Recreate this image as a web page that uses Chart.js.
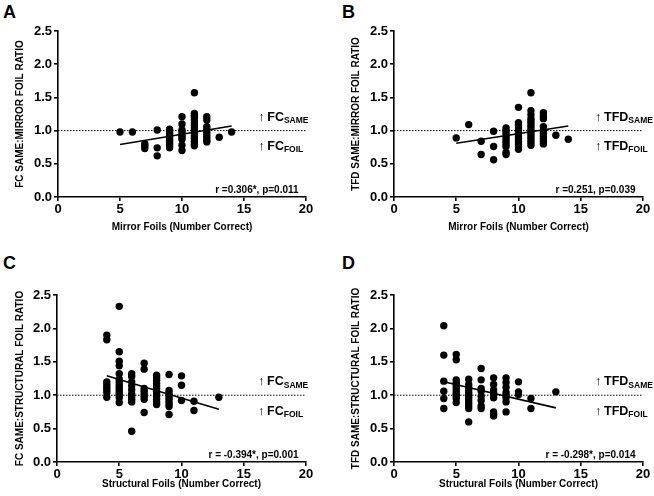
<!DOCTYPE html>
<html>
<head>
<meta charset="utf-8">
<script src="https://cdn.jsdelivr.net/npm/chart.js@4.4.1/dist/chart.umd.min.js"></script>
<style>
body { margin: 0; background: #fff; width: 654px; height: 496px; position: relative; overflow: hidden; font-family: "Liberation Sans", Arial, sans-serif; }
.panel { position: absolute; }
.letter { position: absolute; font-weight: bold; font-size: 18px; line-height: 18px; color: #000; }
</style>
</head>
<body>
<div class="letter" style="left:3px;top:3px">A</div>
<div class="letter" style="left:342px;top:3px">B</div>
<div class="letter" style="left:3px;top:254px">C</div>
<div class="letter" style="left:342px;top:254px">D</div>
<div class="panel" style="left:0;top:0;width:327px;height:246px"><canvas id="chartA"></canvas></div>
<div class="panel" style="left:336px;top:0;width:318px;height:246px"><canvas id="chartB"></canvas></div>
<div class="panel" style="left:0;top:246px;width:327px;height:250px"><canvas id="chartC"></canvas></div>
<div class="panel" style="left:336px;top:246px;width:318px;height:250px"><canvas id="chartD"></canvas></div>
<script>
const xTicks = [0, 5, 10, 15, 20];
const yTicks = [0, 0.5, 1.0, 1.5, 2.0, 2.5];

// A: FC same:mirror foil ratio vs mirror foils
const fcMirrorX = [5, 6, 7, 7, 7, 8, 8, 8,
    9, 9, 9, 9, 9, 9, 9, 9, 9, 9,
    10, 10, 10, 10, 10, 10, 10, 10, 10,
    11, 11, 11, 11, 11, 11, 11, 11, 11, 11, 11, 11, 11, 11, 11,
    12, 12, 12, 12, 12, 12, 12, 12, 12,
    13, 14];
const fcMirrorY = [0.98, 0.98, 0.80, 0.77, 0.73, 1.01, 0.74, 0.62,
    1.02, 0.98, 0.95, 0.92, 0.89, 0.86, 0.83, 0.80, 0.77, 0.74,
    1.21, 1.10, 1.01, 0.97, 0.93, 0.90, 0.87, 0.78, 0.70,
    1.57, 1.26, 1.23, 1.20, 1.16, 1.12, 1.08, 1.04, 1.00, 0.96, 0.92, 0.88, 0.84, 0.80, 0.77,
    1.21, 1.16, 1.06, 1.02, 0.98, 0.94, 0.90, 0.86, 0.83,
    0.90, 0.98];
const fcMirrorFitX = [5, 14];
const fcMirrorFitY = [0.79, 1.07];

// B: TFD same:mirror foil ratio vs mirror foils
const tfdMirrorX = [5, 6, 7, 7, 8, 8, 8,
    9, 9, 9, 9, 9, 9, 9, 9, 9, 9,
    10, 10, 10, 10, 10, 10, 10, 10, 10, 10, 10, 10,
    11, 11, 11, 11, 11, 11, 11, 11, 11, 11, 11, 11, 11, 11,
    12, 12, 12, 12, 12, 12, 12, 12, 12, 12,
    13, 14];
const tfdMirrorY = [0.89, 1.09, 0.84, 0.64, 0.99, 0.76, 0.56,
    1.04, 1.00, 0.96, 0.92, 0.88, 0.84, 0.80, 0.76, 0.67, 0.64,
    1.35, 1.12, 1.08, 1.04, 1.00, 0.96, 0.92, 0.88, 0.84, 0.80, 0.76, 0.72,
    1.57, 1.30, 1.24, 1.18, 1.14, 1.10, 1.06, 1.02, 0.98, 0.94, 0.90, 0.86, 0.82, 0.78,
    1.27, 1.22, 1.18, 1.06, 1.00, 0.96, 0.92, 0.88, 0.84, 0.80,
    0.93, 0.87];
const tfdMirrorFitX = [5, 14];
const tfdMirrorFitY = [0.81, 1.07];

// C: FC same:structural foil ratio vs structural foils
const fcStructX = [4, 4, 4, 4, 4, 4, 4, 4,
    5, 5, 5, 5, 5, 5, 5, 5, 5, 5, 5, 5, 5, 5,
    6, 6, 6, 6, 6, 6, 6, 6, 6, 6,
    7, 7, 7, 7, 7, 7, 7, 7,
    8, 8, 8, 8, 8, 8, 8, 8, 8, 8, 8, 8,
    9, 9, 9, 9, 9, 9, 9, 9, 9,
    10, 10, 10, 11, 11, 13];
const fcStructY = [1.90, 1.83, 1.20, 1.16, 1.12, 1.08, 1.04, 0.97,
    2.33, 1.65, 1.51, 1.44, 1.32, 1.24, 1.20, 1.16, 1.12, 1.08, 1.04, 1.00, 0.96, 0.89,
    1.32, 1.28, 1.20, 1.14, 1.08, 1.02, 0.98, 0.94, 0.90, 0.46,
    1.48, 1.39, 1.10, 1.06, 1.02, 0.98, 0.94, 0.74,
    1.30, 1.26, 1.22, 1.18, 1.14, 1.10, 1.06, 1.02, 0.98, 0.94, 0.90, 0.86,
    1.31, 1.07, 1.03, 0.99, 0.95, 0.91, 0.87, 0.83, 0.71,
    1.29, 1.15, 0.92, 0.91, 0.77, 0.97];
const fcStructFitX = [4, 13];
const fcStructFitY = [1.29, 0.79];

// D: TFD same:structural foil ratio vs structural foils
const tfdStructX = [4, 4, 4, 4, 4, 4,
    5, 5, 5, 5, 5, 5, 5, 5, 5, 5, 5,
    6, 6, 6, 6, 6, 6, 6, 6, 6, 6, 6, 6,
    7, 7, 7, 7, 7, 7, 7, 7,
    8, 8, 8, 8, 8, 8, 8, 8, 8,
    9, 9, 9, 9, 9, 9, 9, 9,
    10, 10, 10, 11, 11, 13];
const tfdStructY = [2.04, 1.60, 1.21, 1.06, 0.95, 0.80,
    1.61, 1.53, 1.23, 1.19, 1.15, 1.11, 1.07, 1.03, 0.99, 0.95, 0.89,
    1.24, 1.16, 1.12, 1.08, 1.04, 1.00, 0.96, 0.92, 0.88, 0.84, 0.80, 0.60,
    1.40, 1.23, 1.10, 1.06, 0.98, 0.92, 0.84, 0.80,
    1.26, 1.16, 1.08, 1.04, 1.00, 0.96, 0.75, 0.71, 0.69,
    1.26, 1.19, 1.12, 1.04, 1.00, 0.96, 0.90, 0.75,
    1.20, 1.05, 1.01, 0.95, 0.80, 1.05];
const tfdStructFitX = [4, 13];
const tfdStructFitY = [1.20, 0.81];

const refX = [0, 20];
const refY = [1, 1];

const notesPlugin = {
    id: 'notes',
    afterDatasetsDraw(chart, args, opts) {
        const ctx = chart.ctx;
        const xs = chart.scales.x, ys = chart.scales.y;
        ctx.save();
        ctx.fillStyle = '#000';
        ctx.textBaseline = 'alphabetic';
        [['SAME', 1.15], ['FOIL', 0.71]].forEach(([sub, v]) => {
            let px = xs.getPixelForValue(16.15);
            const py = ys.getPixelForValue(v);
            ctx.textAlign = 'left';
            ctx.font = '13px "Liberation Sans", Arial';
            ctx.fillText('\u2191', px, py);
            px += 9;
            ctx.font = 'bold 12.5px "Liberation Sans", Arial';
            ctx.fillText(opts.name, px, py);
            px += ctx.measureText(opts.name).width;
            ctx.font = 'bold 8.5px "Liberation Sans", Arial';
            ctx.fillText(sub, px, py + 2.6);
        });
        ctx.font = 'bold 10px "Liberation Sans", Arial';
        ctx.textAlign = 'right';
        ctx.fillText(opts.stat, xs.getPixelForValue(19.4), ys.getPixelForValue(0.065));
        ctx.restore();
    }
};

function toPoints(xs, ys) {
    return xs.map((x, i) => ({ x: x, y: ys[i] }));
}

function makePanel(id, g, xs, ys, fitX, fitY, yTitle, xTitle, name, stat) {
    new Chart(document.getElementById(id), {
        type: 'scatter',
        data: {
            datasets: [{
                data: toPoints(xs, ys),
                backgroundColor: '#000',
                borderWidth: 0,
                pointRadius: 3.7,
            }, {
                type: 'line',
                data: toPoints(fitX, fitY),
                borderColor: '#000',
                borderWidth: 1.6,
                pointRadius: 0,
                fill: false,
            }, {
                type: 'line',
                data: toPoints(refX, refY),
                borderColor: '#000',
                borderWidth: 1,
                borderDash: [1.5, 1.5],
                pointRadius: 0,
                fill: false,
            }]
        },
        plugins: [notesPlugin],
        options: {
            animation: false,
            responsive: true,
            maintainAspectRatio: false,
            layout: { padding: { left: 14, top: g.top, right: g.w - g.right, bottom: g.padB } },
            plugins: {
                legend: { display: false },
                tooltip: { enabled: false },
                notes: { name: name, stat: stat }
            },
            scales: {
                x: {
                    type: 'linear', min: 0, max: 20,
                    afterBuildTicks: s => { s.ticks = xTicks.map(v => ({ value: v })); },
                    afterFit: s => { s.height = g.h - g.padB - g.bottom; },
                    border: { color: '#000', width: 1.6 },
                    grid: { drawOnChartArea: false, color: '#000', lineWidth: 1.6, tickLength: 4 },
                    ticks: { color: '#000', padding: 1, font: { family: '"Liberation Sans", Arial', size: 13, weight: 'bold' } },
                    title: { display: true, text: xTitle, color: '#000', padding: 0, font: { family: '"Liberation Sans", Arial', size: 10, weight: 'bold' } }
                },
                y: {
                    type: 'linear', min: 0, max: 2.5,
                    afterBuildTicks: s => { s.ticks = yTicks.map(v => ({ value: v })); },
                    afterFit: s => { s.width = g.left - 14; },
                    border: { color: '#000', width: 1.6 },
                    grid: { drawOnChartArea: false, color: '#000', lineWidth: 1.6, tickLength: 4 },
                    ticks: { color: '#000', padding: 2, callback: v => v.toFixed(1), font: { family: '"Liberation Sans", Arial', size: 13, weight: 'bold' } },
                    title: { display: true, text: yTitle, color: '#000', padding: 0, font: { family: '"Liberation Sans", Arial', size: 10, weight: 'bold' } }
                }
            }
        }
    });
}

makePanel('chartA', { w: 327, h: 246, left: 58, right: 306, top: 31, bottom: 197, padB: 13 },
    fcMirrorX, fcMirrorY, fcMirrorFitX, fcMirrorFitY,
    'FC SAME:MIRROR FOIL RATIO', 'Mirror Foils (Number Correct)', 'FC', 'r =0.306*, p=0.011');
makePanel('chartB', { w: 318, h: 246, left: 58, right: 307, top: 31, bottom: 197, padB: 13 },
    tfdMirrorX, tfdMirrorY, tfdMirrorFitX, tfdMirrorFitY,
    'TFD SAME:MIRROR FOIL RATIO', 'Mirror Foils (Number Correct)', 'TFD', 'r =0.251, p=0.039');
makePanel('chartC', { w: 327, h: 250, left: 57, right: 306, top: 49, bottom: 216, padB: 6 },
    fcStructX, fcStructY, fcStructFitX, fcStructFitY,
    'FC SAME:STRUCTURAL FOIL RATIO', 'Structural Foils (Number Correct)', 'FC', 'r = -0.394*, p=0.001');
makePanel('chartD', { w: 318, h: 250, left: 58, right: 307, top: 49, bottom: 216, padB: 6 },
    tfdStructX, tfdStructY, tfdStructFitX, tfdStructFitY,
    'TFD SAME:STRUCTURAL FOIL RATIO', 'Structural Foils (Number Correct)', 'TFD', 'r = -0.298*, p=0.014');
</script>
</body>
</html>
